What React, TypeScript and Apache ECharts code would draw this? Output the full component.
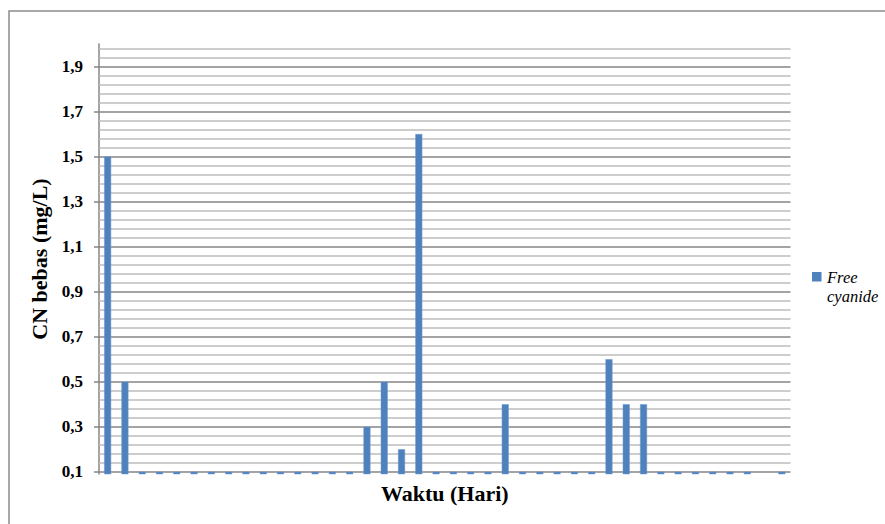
import React, { useEffect, useRef } from "react";
import * as echarts from "echarts";

const days: string[] = Array.from({ length: 40 }, (_, i) => String(i + 1));
const freeCyanide: (number | null)[] = [
  1.5, 0.5, 0.1, 0.1, 0.1, 0.1, 0.1, 0.1, 0.1, 0.1,
  0.1, 0.1, 0.1, 0.1, 0.1, 0.3, 0.5, 0.2, 1.6, 0.1,
  0.1, 0.1, 0.1, 0.4, 0.1, 0.1, 0.1, 0.1, 0.1, 0.6,
  0.4, 0.4, 0.1, 0.1, 0.1, 0.1, 0.1, 0.1, null, 0.1,
];
const yTickLabels: number[] = [0.1, 0.3, 0.5, 0.7, 0.9, 1.1, 1.3, 1.5, 1.7, 1.9];
const AXIS_BASE = 0.1;
const Y_MIN = 0.09;
const Y_MAX = 2.0;
const MINOR_STEP = 0.04;

export default function App() {
  const ref = useRef<HTMLDivElement>(null);
  useEffect(() => {
    if (!ref.current) return;
    const chart = echarts.init(ref.current, null, { renderer: "svg" });

    const gridLines: any[] = [
      { yAxis: AXIS_BASE, lineStyle: { color: "#868686", width: 1.5, type: "solid" } },
    ];
    for (let k = 1; AXIS_BASE + k * MINOR_STEP <= Y_MAX + 1e-9; k++) {
      const v = Math.round((AXIS_BASE + k * MINOR_STEP) * 1000) / 1000;
      const major = k % 5 === 0;
      gridLines.push({
        yAxis: v,
        lineStyle: {
          color: major ? "#868686" : "#bcbcbc",
          width: 1.5,
          type: "solid",
        },
      });
    }

    const serif = "Liberation Serif";

    chart.setOption({
      animation: false,
      backgroundColor: "#ffffff",
      textStyle: { fontFamily: serif },
      grid: { left: 99, top: 44, width: 691.5, height: 430, containLabel: false },
      xAxis: {
        type: "category",
        data: days,
        name: "Waktu (Hari)",
        nameLocation: "middle",
        nameGap: 8,
        nameTextStyle: {
          fontFamily: serif,
          fontWeight: "bold",
          fontSize: 22,
          color: "#000",
          verticalAlign: "top",
        },
        axisLine: { show: false },
        axisTick: { show: false },
        axisLabel: { show: false },
        splitLine: { show: false },
      },
      yAxis: {
        type: "value",
        min: Y_MIN,
        max: Y_MAX,
        name: "CN bebas (mg/L)",
        nameLocation: "middle",
        nameGap: 48,
        nameTextStyle: {
          fontFamily: serif,
          fontWeight: "bold",
          fontSize: 22,
          color: "#000",
        },
        axisLine: { show: true, lineStyle: { color: "#868686", width: 1.5 } },
        axisTick: {
          show: true,
          inside: false,
          length: 5,
          customValues: yTickLabels,
          lineStyle: { color: "#868686", width: 1.5 },
        },
        axisLabel: {
          show: true,
          customValues: yTickLabels,
          margin: 16,
          fontFamily: serif,
          fontWeight: "bold",
          fontSize: 17,
          color: "#000",
          formatter: (v: number) => v.toFixed(1).replace(".", ","),
        },
        splitLine: { show: false },
      },
      series: [
        {
          type: "bar",
          name: "Free cyanide",
          data: freeCyanide,
          barWidth: 7,
          z: 10,
          itemStyle: { color: "#4f81bd", borderColor: "#6f9ad0", borderWidth: 0.5 },
          markLine: {
            silent: true,
            z: 1,
            symbol: ["none", "none"],
            label: { show: false },
            emphasis: { disabled: true },
            data: gridLines,
          },
        },
      ],
      graphic: [
        {
          type: "rect",
          shape: { x: 9, y: 11, width: 1000, height: 1000 },
          style: { fill: "none", stroke: "#8c8c8c", lineWidth: 1.5 },
          silent: true,
        },
        {
          type: "rect",
          shape: { x: 812, y: 272, width: 9.5, height: 9.5 },
          style: { fill: "#4f81bd" },
          silent: true,
        },
        {
          type: "text",
          x: 827,
          y: 268,
          style: {
            text: "Free\ncyanide",
            fontFamily: serif,
            fontStyle: "italic",
            fontSize: 16.5,
            lineHeight: 19,
            fill: "#000",
            align: "left",
            verticalAlign: "top",
          },
          silent: true,
        },
      ],
    });
    return () => chart.dispose();
  }, []);
  return (
    <div
      ref={ref}
      style={{ position: "absolute", left: 0, top: 0, width: 885, height: 524 }}
    />
  );
}
